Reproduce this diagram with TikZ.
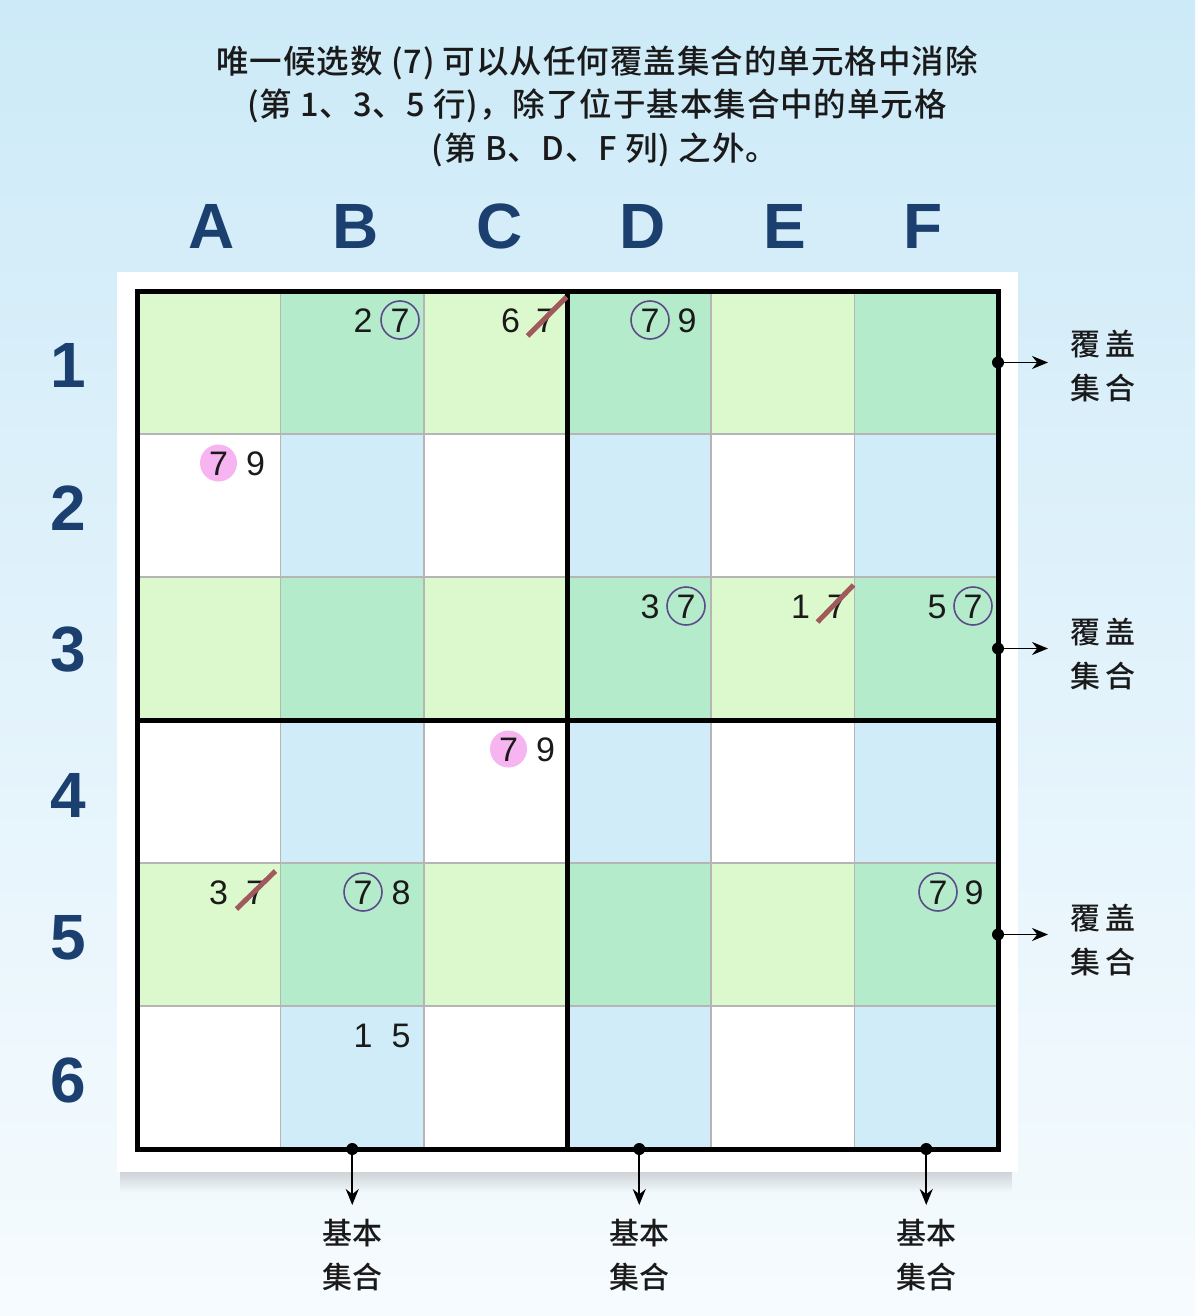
\documentclass[tikz,border=0pt]{standalone}
\usepackage{fontspec}
\usetikzlibrary{arrows.meta,fadings,calc}
\setmainfont{Liberation Sans}
\newfontfamily\cjk[LetterSpace=3]{Noto Sans CJK SC Medium}
\newfontfamily\cjklbl{Noto Sans CJK SC Medium}
\definecolor{bgtop}{HTML}{CDEAF8}
\definecolor{bgbot}{HTML}{F6FBFE}
\definecolor{lgreen}{HTML}{DCF9CD}
\definecolor{mgreen}{HTML}{B3EBCB}
\definecolor{lblue}{HTML}{CFECF8}
\definecolor{gridgray}{HTML}{B5B5B5}
\definecolor{navy}{HTML}{1B3F6E}
\definecolor{ink}{HTML}{1A1A1A}
\definecolor{ringc}{HTML}{5E4A8A}
\definecolor{pinkc}{HTML}{F6B5F1}
\definecolor{strikec}{HTML}{A05A5C}
\tikzset{
  cell/.style={rectangle,minimum width=143.5pt,minimum height=143pt,inner sep=0pt,outer sep=0pt},
  thinline/.style={draw=gridgray,line width=1.8pt},
  thickline/.style={draw=black,line width=5pt},
  cand/.style={inner sep=0pt,outer sep=0pt,text=ink,font=\fontsize{34}{34}\selectfont,text height=24.5pt,text depth=0pt},
  ring/.style={draw=ringc,circle,line width=1.6pt,minimum size=38pt},
  pinkdot/.style={fill=pinkc,circle,minimum size=37pt},
  strike/.style={draw=strikec,line width=5pt},
  hdr/.style={text=navy,font=\bfseries\fontsize{64}{64}\selectfont,inner sep=0pt},
  title/.style={text=ink,align=center,font=\cjk\fontsize{32.5}{43.5}\selectfont},
  sidelbl/.style={text=ink,align=center,font=\cjklbl\fontsize{30}{44}\selectfont},
  arr/.style={draw=black,line width=1.8pt,-{Stealth[length=16pt,width=13pt]}},
  dot/.style={circle,fill=black,inner sep=0pt,minimum size=12pt}
}
\begin{document}
\begin{tikzpicture}[x=1pt,y=-1pt]
\useasboundingbox (0,0) rectangle (1195,1316);
\shade[top color=bgtop,bottom color=bgbot] (0,0) rectangle (1195,1316);
% title
\node[title] (t1) at (597,63) {唯一候选数 (7) 可以从任何覆盖集合的单元格中消除};
\node[title] (t2) at (597,106) {(第 1、3、5 行)，除了位于基本集合中的单元格};
\node[title] (t3) at (605,150) {(第 B、D、F 列) 之外。};
% panel shadow and panel
\fill[black,opacity=0.18,path fading=south] (121,1168) rectangle (1014,1192);
\node[fill=white,minimum width=901pt,minimum height=900pt,inner sep=0pt] (panel) at (567.5,722) {};
% cells
\foreach \r in {1,...,6}{
  \foreach \c in {1,...,6}{
    \ifodd\r
      \ifodd\c \def\fc{lgreen}\else\def\fc{mgreen}\fi
    \else
      \ifodd\c \def\fc{white}\else\def\fc{lblue}\fi
    \fi
    \node[cell,fill=\fc] (c\r\c) at ({137+(\c-0.5)*143.5},{291+(\r-0.5)*143}) {};
  }
}
% thin grid lines
\foreach \c in {1,2,4,5}{
  \draw[thinline] (c1\c.north east) -- (c6\c.south east);
}
\foreach \r in {1,2,4,5}{
  \draw[thinline] (c\r1.south west) -- (c\r6.south east);
}
% thick lines
\draw[thickline] (c13.north east) -- (c63.south east);
\draw[thickline] (c31.south west) -- (c36.south east);
\draw[thickline] (c11.north west) rectangle (c66.south east);
% column headers
\node[hdr] (hA) at (212,226) {A};
\node[hdr] (hB) at (356,226) {B};
\node[hdr] (hC) at (500,226) {C};
\node[hdr] (hD) at (643,226) {D};
\node[hdr] (hE) at (785,226) {E};
\node[hdr] (hF) at (923,226) {F};
% row headers
\node[hdr] (h1) at (68,365) {1};
\node[hdr] (h2) at (68,508) {2};
\node[hdr] (h3) at (68,650) {3};
\node[hdr] (h4) at (68,795) {4};
\node[hdr] (h5) at (68,938) {5};
\node[hdr] (h6) at (68,1080) {6};
% candidates
\node[cand] (n12a) at ($(c12.north east)+(-61,29)$) {2};
\node[cand,ring] (n12b) at ($(c12.north east)+(-24,29)$) {7};
\node[cand] (n13a) at ($(c13.north east)+(-57,29)$) {6};
\node[cand] (n13b) at ($(c13.north east)+(-22,29)$) {7};
\draw[strike] ($(n13b.center)+(-18,16)$) -- ($(n13b.center)+(21,-23)$);
\node[cand,ring] (n14a) at ($(c14.north east)+(-61,29)$) {7};
\node[cand] (n14b) at ($(c14.north east)+(-24,29)$) {9};
\node[cand,pinkdot] (n21a) at ($(c21.north east)+(-62,29)$) {7};
\node[cand] (n21b) at ($(c21.north east)+(-25,29)$) {9};
\node[cand] (n34a) at ($(c34.north east)+(-61,29)$) {3};
\node[cand,ring] (n34b) at ($(c34.north east)+(-25,29)$) {7};
\node[cand] (n35a) at ($(c35.north east)+(-54,29)$) {1};
\node[cand] (n35b) at ($(c35.north east)+(-18,29)$) {7};
\draw[strike] ($(n35b.center)+(-19,16)$) -- ($(n35b.center)+(17,-21)$);
\node[cand] (n36a) at ($(c36.north east)+(-61,29)$) {5};
\node[cand,ring] (n36b) at ($(c36.north east)+(-25,29)$) {7};
\node[cand,pinkdot] (n43a) at ($(c43.north east)+(-59,29)$) {7};
\node[cand] (n43b) at ($(c43.north east)+(-22,29)$) {9};
\node[cand] (n51a) at ($(c51.north east)+(-62,29)$) {3};
\node[cand] (n51b) at ($(c51.north east)+(-25,29)$) {7};
\draw[strike] ($(n51b.center)+(-19,17)$) -- ($(n51b.center)+(20,-21)$);
\node[cand,ring] (n52a) at ($(c52.north east)+(-61,29)$) {7};
\node[cand] (n52b) at ($(c52.north east)+(-23,29)$) {8};
\node[cand,ring] (n56a) at ($(c56.north east)+(-60,29)$) {7};
\node[cand] (n56b) at ($(c56.north east)+(-24,29)$) {9};
\node[cand] (n62a) at ($(c62.north east)+(-61,29)$) {1};
\node[cand] (n62b) at ($(c62.north east)+(-23,29)$) {5};
% right arrows (cover sets)
\foreach \r/\ly in {1/366,3/654,5/940}{
  \node[dot] (d\r) at (c\r6.east) {};
  \coordinate (e\r) at ($(c\r6.east)+(50,0)$);
  \draw[arr] (d\r.center) -- (e\r);
  \node[sidelbl] (l\r) at (1103,\ly) {覆\,盖\\集\,合};
}
% bottom arrows (base sets)
\foreach \c in {2,4,6}{
  \node[dot] (b\c) at (c6\c.south) {};
  \coordinate (f\c) at ($(c6\c.south)+(0,56)$);
  \draw[arr] (b\c.center) -- (f\c);
  \node[sidelbl] (m\c) at ($(c6\c.south)+(0,106)$) {基本\\集合};
}
\end{tikzpicture}
\end{document}
